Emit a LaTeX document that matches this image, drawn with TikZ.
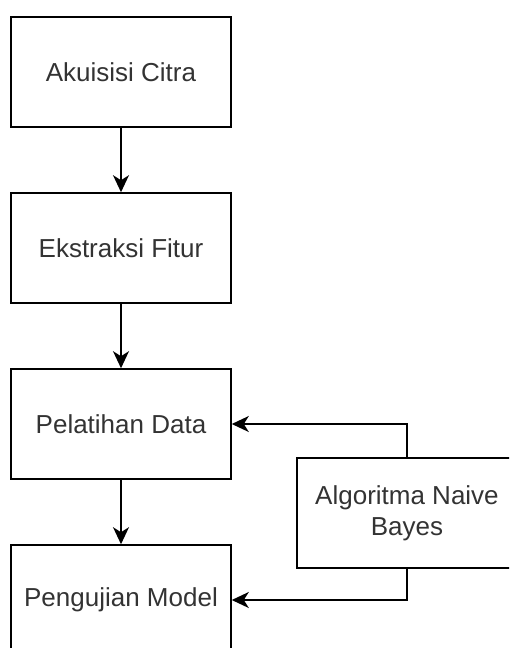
\documentclass[tikz,border=0pt]{standalone}
\usepackage{fontspec}
\setmainfont{Liberation Sans}
\usetikzlibrary{arrows.meta}
\begin{document}
\begin{tikzpicture}[x=1pt, y=-1pt, node distance=176pt,
                    main/.style = {draw, line width=1.6pt, minimum width=220pt, minimum height=110pt, inner sep=0pt, align=center, text=black!80, font=\fontsize{26}{31}\selectfont},
                    every edge/.style = {draw, line width=1.6pt},
                    >={Stealth[length=17pt, width=16pt, inset=5pt]}]
                    \useasboundingbox (0,0) rectangle (509,648);
                    \clip (0,0) rectangle (509,648);

                    \node[main] (1) at (121,72) {Akuisisi Citra};
                    \node[main] (2) [below of=1] {Ekstraksi Fitur};
                    \node[main] (3) [below of=2] {Pelatihan Data};
                    \node[main] (4) [below of=3] {Pengujian Model};

                    \node[main] (5) [right of=3, xshift=110pt, yshift=-89pt] {Algoritma Naive\\Bayes};

                    \draw[->, line width=1.6pt] (1) -- (2);
                    \draw[->, line width=1.6pt] (2) -- (3);
                    \draw[->, line width=1.6pt] (3) -- (4);
                    \draw[->, line width=1.6pt] (5.north) |- (3.east);
                    \draw[->, line width=1.6pt] (5.south) |- (4.east);
                \end{tikzpicture}
\end{document}
